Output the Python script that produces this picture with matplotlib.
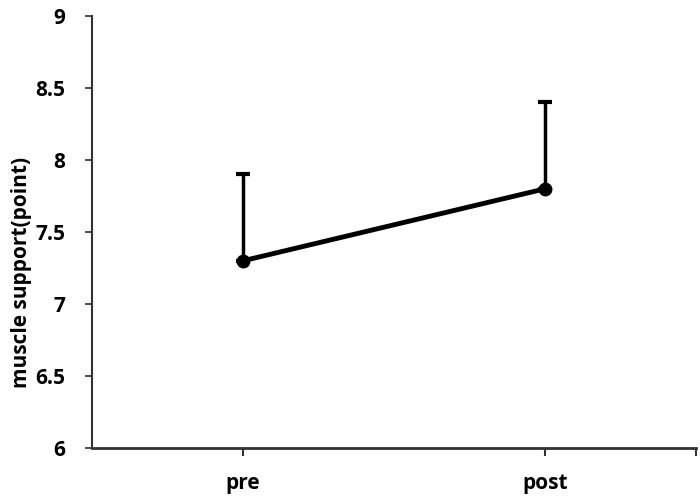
import matplotlib
matplotlib.use("Agg")
import matplotlib.pyplot as plt

# data
fases = ["pre", "post"]
medias = [7.3, 7.8]
error_sup = [0.6, 0.6]
yticks = [6, 6.5, 7, 7.5, 8, 8.5, 9]
ytick_labels = ["6", "6.5", "7", "7.5", "8", "8.5", "9"]

plt.rcParams['font.family'] = ['Open Sans', 'DejaVu Sans']
plt.rcParams['font.weight'] = 'bold'

fig = plt.figure(figsize=(7, 5), dpi=100)
ax = fig.add_axes([92/700, 1 - 448/500, (696 - 92)/700, (448 - 16)/500])

x = list(range(len(fases)))
ax.errorbar(x, medias, yerr=[[0, 0], error_sup], fmt='none', ecolor='black',
            elinewidth=2.5, capsize=5, capthick=3, zorder=2)
ax.plot(x, medias, color='black', linewidth=3.5, marker='o', markersize=9,
        zorder=3)

ax.set_xlim(-0.5, 1.5)
ax.set_ylim(6, 9)
ax.set_yticks(yticks)
ax.set_yticklabels(ytick_labels)
ax.set_xticks([0, 1, 1.5])
ax.set_xticklabels(fases + [""])

for s in ['top', 'right']:
    ax.spines[s].set_visible(False)
ax.spines['left'].set_linewidth(1.5)
ax.spines['bottom'].set_linewidth(2)
ax.spines['left'].set_color('#333333')
ax.spines['bottom'].set_color('#333333')

ax.tick_params(axis='y', direction='out', length=5, width=1.2, pad=14,
               labelsize=15, colors='#333333', labelcolor='black')
ax.tick_params(axis='x', direction='out', length=6, width=1.5, pad=12,
               labelsize=15, colors='#333333', labelcolor='black')

fig.text(22/700, 1 - 272/500, "muscle support(point)", rotation=90,
         ha='center', va='center', fontsize=15, fontweight='bold')

fig.savefig("out.png", dpi=100)
